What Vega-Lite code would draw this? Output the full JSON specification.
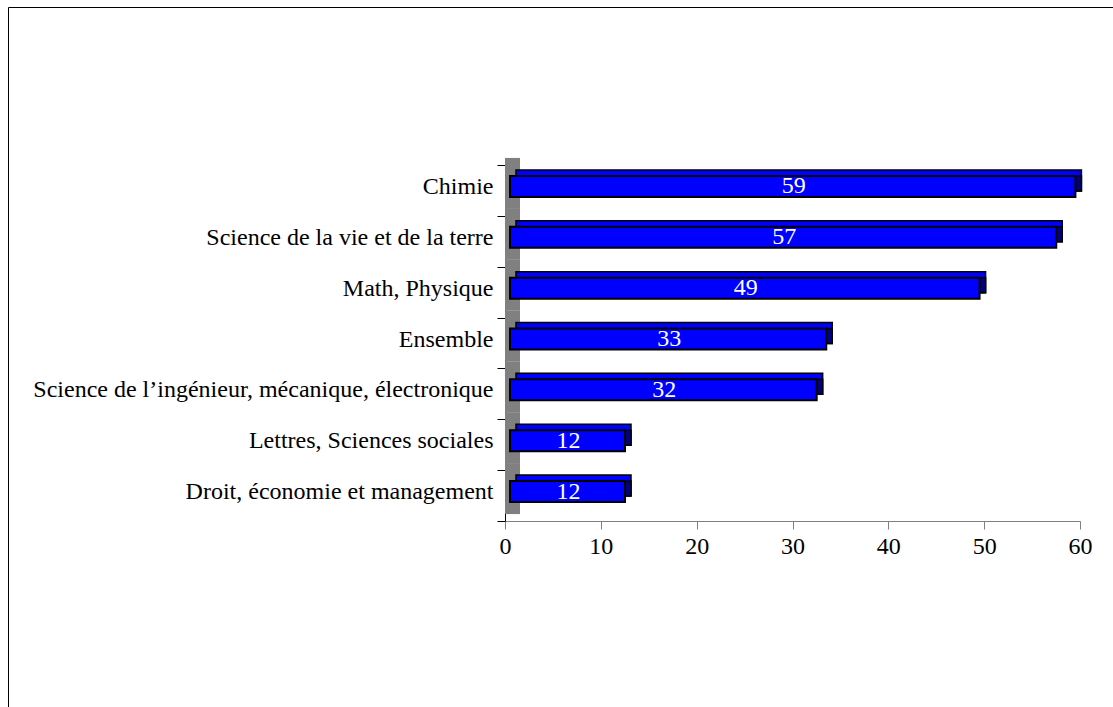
{
  "$schema": "https://vega.github.io/schema/vega-lite/v6.json",
  "autosize": {"type": "none"},
  "padding": {"left": 8, "top": 7, "right": 0, "bottom": 0},
  "width": 1110,
  "height": 705,
  "background": "white",
  "config": {
    "view": {"stroke": "black", "strokeWidth": 1},
    "font": "Liberation Serif"
  },
  "data": {
    "values": [
      {"filiere": "Chimie", "valeur": 59},
      {"filiere": "Science de la vie et de la terre", "valeur": 57},
      {"filiere": "Math, Physique", "valeur": 49},
      {"filiere": "Ensemble", "valeur": 33},
      {"filiere": "Science de l’ingénieur, mécanique, électronique", "valeur": 32},
      {"filiere": "Lettres, Sciences sociales", "valeur": 12},
      {"filiere": "Droit, économie et management", "valeur": 12}
    ]
  },
  "encoding": {
    "y": {
      "field": "filiere",
      "type": "nominal",
      "sort": null,
      "scale": {"range": [158, 514], "paddingInner": 0, "paddingOuter": 0},
      "axis": {
        "title": null,
        "offset": -497,
        "tickBand": "extent",
        "domainColor": "black",
        "tickColor": "black",
        "tickSize": 8,
        "labelFontSize": 24,
        "labelColor": "black",
        "labelPadding": 4,
        "labelFont": "Liberation Serif",
        "labelLimit": 600,
        "labelOffset": -4
      }
    }
  },
  "layer": [
    {
      "mark": {"type": "bar", "color": "#808080", "size": 51, "yOffset": -7, "xOffset": 0, "x2Offset": 15},
      "encoding": {
        "x": {"datum": 0, "type": "quantitative"},
        "x2": {"datum": 0}
      }
    },
    {
      "mark": {"type": "bar", "color": "#0000FF", "stroke": "black", "strokeWidth": 1.5, "size": 21, "xOffset": 11, "x2Offset": 11, "yOffset": -10},
      "encoding": {
        "x": {"field": "valeur", "type": "quantitative"},
        "x2": {"datum": 0}
      }
    },
    {
      "mark": {"type": "bar", "color": "#000080", "stroke": "black", "strokeWidth": 1.5, "size": 15, "xOffset": 5, "x2Offset": 11, "yOffset": -7},
      "encoding": {
        "x": {"field": "valeur", "type": "quantitative"},
        "x2": {"field": "valeur"}
      }
    },
    {
      "mark": {"type": "bar", "color": "#0000FF", "stroke": "black", "strokeWidth": 2, "size": 21, "xOffset": 5, "x2Offset": 5, "yOffset": -4},
      "encoding": {
        "x": {"field": "valeur", "type": "quantitative",
          "scale": {"domain": [0, 60], "range": [497, 1072]},
          "axis": {
            "title": null,
            "offset": -191,
            "values": [0, 10, 20, 30, 40, 50, 60],
            "grid": false,
            "labelFlush": false,
            "domainColor": "#808080",
            "tickColor": "#808080",
            "tickSize": 8,
            "labelFontSize": 24,
            "labelColor": "black",
            "labelPadding": 5,
            "labelFont": "Liberation Serif"
          }
        },
        "x2": {"datum": 0}
      }
    },
    {
      "transform": [{"calculate": "datum.valeur / 2", "as": "milieu"}],
      "mark": {"type": "text", "color": "white", "fontSize": 24, "font": "Liberation Serif", "dx": 6, "dy": -4, "align": "center", "baseline": "middle"},
      "encoding": {
        "x": {"field": "milieu", "type": "quantitative"},
        "text": {"field": "valeur", "type": "quantitative"}
      }
    }
  ]
}
